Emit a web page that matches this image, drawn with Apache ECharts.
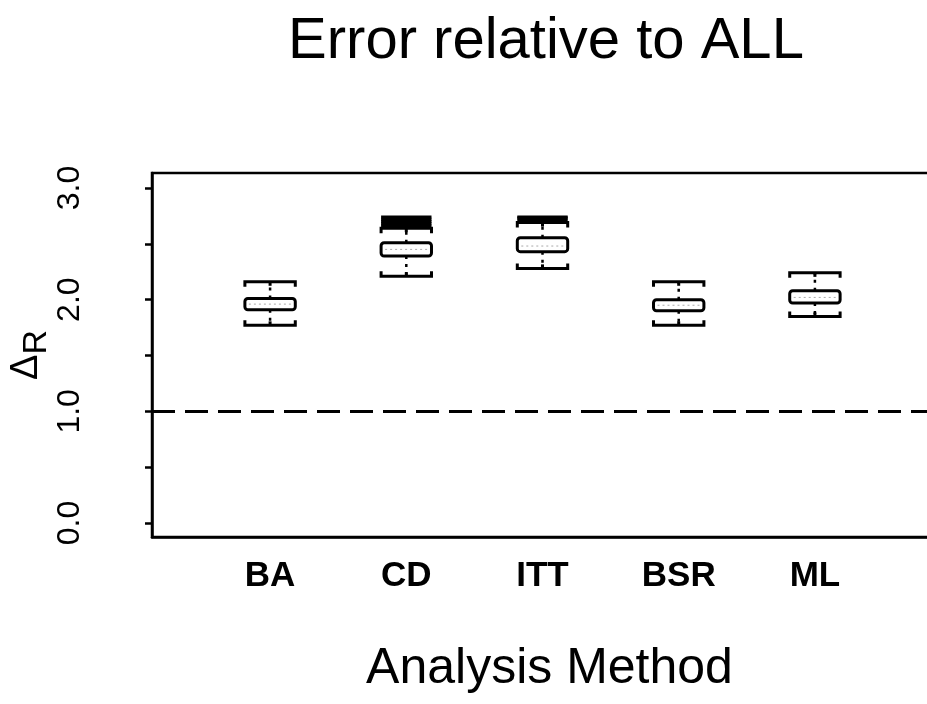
<!DOCTYPE html>
<html>
<head>
<meta charset="utf-8">
<title>Error relative to ALL</title>
<script src="https://cdn.jsdelivr.net/npm/echarts@6/dist/echarts.min.js"></script>
<style>
  html, body { margin: 0; padding: 0; background: #fff; }
  #chart { width: 927px; height: 704px; }
</style>
</head>
<body>
<div id="chart"></div>
<script>
// Analysis methods along the x axis (positions 1..5)
const categories = ['BA', 'CD', 'ITT', 'BSR', 'ML'];

// Box-plot summaries of Delta_R for each method
const lowerWhisker = [1.77, 2.21, 2.28, 1.77, 1.85];
const q1 = [1.91, 2.39, 2.43, 1.90, 1.97];
const median = [1.96, 2.45, 2.48, 1.95, 2.02];
const q3 = [2.01, 2.51, 2.555, 2.00, 2.08];
const upperWhisker = [2.16, 2.64, 2.69, 2.16, 2.24];
const outliers = [[], [2.66, 2.68, 2.70, 2.72, 2.74], [2.71, 2.73, 2.74], [], []];

// Reference level (no change relative to ALL)
const refLevel = 1.0;

// Y axis ticks and labelled ticks
const yTicks = [0, 0.5, 1, 1.5, 2, 2.5, 3];
const yLabels = [0, 1, 2, 3];

const FONT = '"Liberation Sans", Arial, Helvetica, sans-serif';
const INK = '#000';

const boxRows = categories.map((c, i) => [i + 1, lowerWhisker[i], q1[i], median[i], q3[i], upperWhisker[i]]);
const outlierRows = [];
outliers.forEach((vals, i) => vals.forEach(v => outlierRows.push([i + 1, v])));

const BOX_W = 0.37;   // box width in x-axis units
const LW = 3;

function renderBox(params, api) {
  const x = api.value(0);
  const half = api.size([BOX_W, 0])[0] / 2;
  const pLw = api.coord([x, api.value(1)]);
  const pQ1 = api.coord([x, api.value(2)]);
  const pMed = api.coord([x, api.value(3)]);
  const pQ3 = api.coord([x, api.value(4)]);
  const pUw = api.coord([x, api.value(5)]);
  const cx = pQ1[0];
  const hook = 5;
  const lineStyle = { stroke: INK, lineWidth: LW, fill: null };
  return {
    type: 'group',
    children: [
      // whiskers (dotted)
      { type: 'line', shape: { x1: cx, y1: pQ3[1], x2: cx, y2: pUw[1] },
        style: { stroke: INK, lineWidth: 2.5, lineDash: [3, 5] } },
      { type: 'line', shape: { x1: cx, y1: pQ1[1], x2: cx, y2: pLw[1] },
        style: { stroke: INK, lineWidth: 2.5, lineDash: [3, 5] } },
      // upper cap, hooked down at the ends
      { type: 'polyline', shape: { points: [[cx - half, pUw[1] + hook], [cx - half, pUw[1]], [cx + half, pUw[1]], [cx + half, pUw[1] + hook]] },
        style: lineStyle },
      { type: 'line', shape: { x1: cx, y1: pUw[1], x2: cx, y2: pUw[1] + 4 }, style: { stroke: INK, lineWidth: LW } },
      // lower cap, hooked up at the ends
      { type: 'polyline', shape: { points: [[cx - half, pLw[1] - hook], [cx - half, pLw[1]], [cx + half, pLw[1]], [cx + half, pLw[1] - hook]] },
        style: lineStyle },
      { type: 'line', shape: { x1: cx, y1: pLw[1], x2: cx, y2: pLw[1] - 4 }, style: { stroke: INK, lineWidth: LW } },
      // inter-quartile box
      { type: 'rect', shape: { x: cx - half, y: pQ3[1], width: 2 * half, height: pQ1[1] - pQ3[1], r: 3 },
        style: { fill: '#fff', stroke: INK, lineWidth: LW } },
      // median
      { type: 'line', shape: { x1: cx - half + 4, y1: pMed[1], x2: cx + half - 4, y2: pMed[1] },
        style: { stroke: '#aaa', lineWidth: 1, lineDash: [2, 3] } }
    ]
  };
}

function renderOutlier(params, api) {
  const x = api.value(0);
  const half = api.size([BOX_W, 0])[0] / 2;
  const p = api.coord([x, api.value(1)]);
  return {
    type: 'line',
    shape: { x1: p[0] - half, y1: p[1], x2: p[0] + half, y2: p[1] },
    style: { stroke: INK, lineWidth: LW }
  };
}

const chart = echarts.init(document.getElementById('chart'), null, { renderer: 'canvas' });

chart.setOption({
  backgroundColor: '#fff',
  animation: false,
  title: {
    text: 'Error relative to ALL',
    left: 541,
    textAlign: 'center',
    top: 8,
    textStyle: { fontFamily: FONT, fontSize: 58, fontWeight: 'normal', color: INK }
  },
  grid: {
    left: 152, top: 173, bottom: 167, right: -6,
    containLabel: false,
    outerBoundsMode: 'none',
    show: true, borderColor: INK, borderWidth: 2.5, backgroundColor: 'transparent'
  },
  xAxis: {
    type: 'value',
    min: 0.133, max: 5.867,
    splitLine: { show: false },
    axisLine: { show: true, onZero: false, lineStyle: { color: INK, width: 2.5 } },
    axisTick: { show: false },
    axisLabel: {
      customValues: categories.map((c, i) => i + 1),
      formatter: v => categories[Math.round(v) - 1] || '',
      margin: 22,
      fontFamily: FONT, fontSize: 35, fontWeight: 'bold', color: INK
    },
    name: 'Analysis Method',
    nameLocation: 'middle',
    nameGap: 107,
    nameMoveOverlap: false,
    nameTextStyle: { fontFamily: FONT, fontSize: 50, color: INK, padding: [0, 0, 0, 14] }
  },
  yAxis: {
    type: 'value',
    min: -0.125, max: 3.134,
    splitLine: { show: false },
    axisLine: { show: true, onZero: false, lineStyle: { color: INK, width: 2.5 } },
    axisTick: { show: true, length: 7, customValues: yTicks, lineStyle: { color: INK, width: 2.5 } },
    axisLabel: {
      customValues: yLabels,
      rotate: 90,
      margin: 66,
      formatter: v => v.toFixed(1),
      fontFamily: FONT, fontSize: 32, color: INK
    },
    name: '{d|Δ}{r|R}',
    nameLocation: 'middle',
    nameRotate: 90,
    nameGap: 98,
    nameMoveOverlap: false,
    nameTextStyle: {
      rich: {
        d: { fontFamily: FONT, fontSize: 38, color: INK, lineHeight: 46, verticalAlign: 'top' },
        r: { fontFamily: FONT, fontSize: 34, color: INK, lineHeight: 46, verticalAlign: 'bottom' }
      }
    }
  },
  series: [
    {
      type: 'custom',
      name: 'box',
      renderItem: renderBox,
      data: boxRows,
      encode: { x: 0, y: [1, 2, 3, 4, 5] },
      z: 3,
      markLine: {
        silent: true,
        symbol: 'none',
        label: { show: false },
        lineStyle: { color: INK, width: 3, type: [23, 10] },
        data: [{ yAxis: refLevel }]
      }
    },
    {
      type: 'custom',
      name: 'outliers',
      renderItem: renderOutlier,
      data: outlierRows,
      encode: { x: 0, y: 1 },
      z: 4
    }
  ]
});
</script>
</body>
</html>
